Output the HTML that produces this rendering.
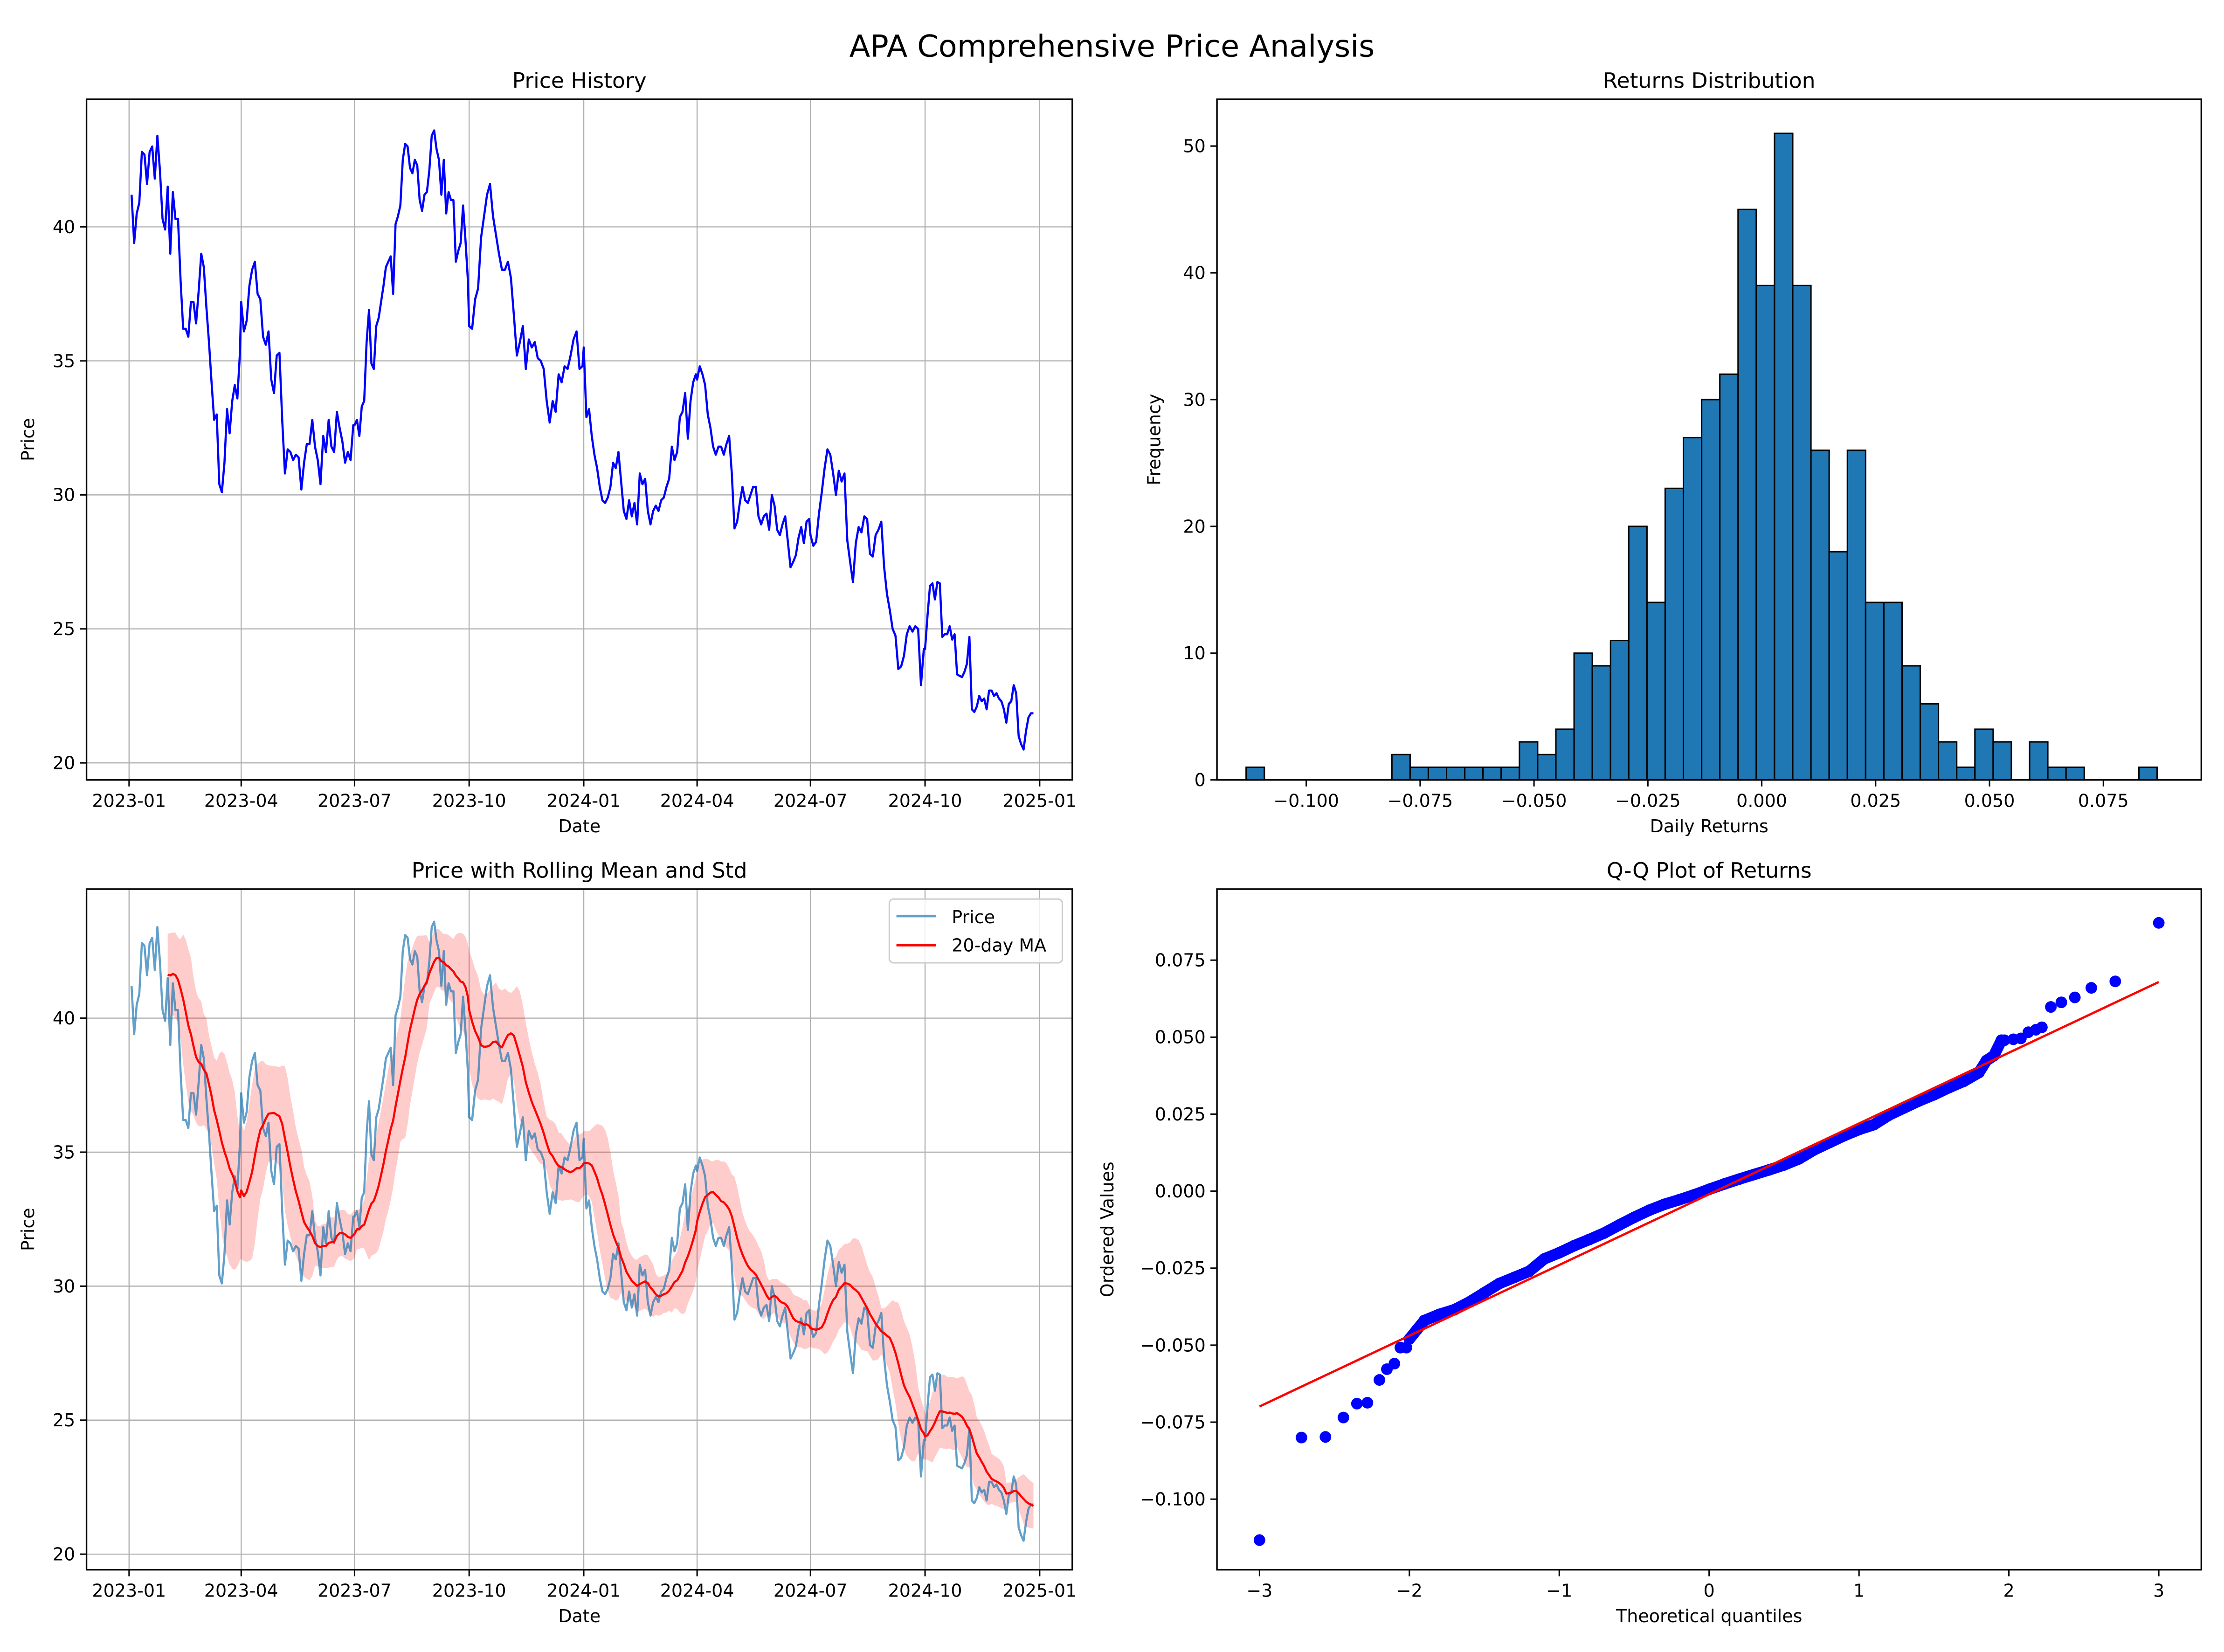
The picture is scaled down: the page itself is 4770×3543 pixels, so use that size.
<!DOCTYPE html>
<html><head><meta charset="utf-8">
<style>
html,body{margin:0;padding:0;background:#fff;}
svg{display:block;font-family:"DejaVu Sans","Liberation Sans",sans-serif;}
</style></head>
<body>
<svg id="fig" width="4770" height="3543" viewBox="0 0 1568 1165" preserveAspectRatio="none" xmlns="http://www.w3.org/2000/svg">
<rect x="0" y="0" width="1568" height="1165" fill="#fff"/>
<text x="784" y="40" font-size="21.5" text-anchor="middle">APA Comprehensive Price Analysis</text>
</svg>
<script>
// ---------- DATA ----------
const quarterStarts = ["2023-01-03","2023-04-01","2023-07-01","2023-10-01","2024-01-01","2024-04-01","2024-07-01","2024-10-01","2024-12-28"];
const priceQ1_2023 = [41.2,39.4,40.5,40.9,42.8,42.7,41.6,42.8,43,41.8,43.4,42.1,40.3,39.9,41.5,39,41.3,40.3,40.3,38,36.2,36.2,35.9,37.2,37.2,36.4,37.6,39,38.5,37,35.7,34.2,32.8,33,30.4,30.1,31.2,33.2,32.3,33.5,34.1,33.6,35.3];
const priceQ2_2023 = [37.2,36.1,36.5,37.8,38.4,38.7,37.5,37.3,35.9,35.6,36.1,34.3,33.8,35.2,35.3,32.8,30.8,31.7,31.6,31.3,31.5,31.4,30.2,31.2,31.9,31.9,32.8,31.8,31.3,30.4,32.2,31.6,32.8,31.8,31.6,33.1,32.5,32,31.2,31.6,31.3,32.6];
const priceQ3_2023 = [32.6,32.8,32.2,33.3,33.5,35.7,36.9,34.9,34.7,36.3,36.6,37.2,37.8,38.5,38.7,38.9,37.5,40.1,40.4,40.8,42.5,43.1,43,42.2,42,42.5,42.3,41,40.6,41.2,41.3,42.1,43.4,43.6,42.9,42.5,41.2,42.5,40.5,41.3,41,41,38.7,39.1,39.4,40.8,39.5,38];
const priceQ4_2023 = [36.3,36.2,37.3,37.7,39.6,40.4,41.2,41.6,40.4,39.7,39,38.4,38.4,38.7,38.1,36.7,35.2,35.7,36.3,34.7,35.8,35.5,35.7,35.1,35,34.7,33.5,32.7,33.5,33.1,34.5,34.2,34.8,34.7,35.2,35.8,36.1,34.7,34.8];
const priceQ1_2024 = [35.5,32.9,33.2,32.2,31.5,31,30.3,29.8,29.7,29.9,30.3,31.2,31,31.6,30.5,29.4,29.1,29.8,29.2,29.7,28.9,30.8,30.4,30.6,29.4,28.9,29.4,29.6,29.4,29.8,29.9,30.3,30.6,31.8,31.3,31.6,32.9,33.1,33.8,32.1,33.5,34.2,34.5];
const priceQ2_2024 = [34.3,34.8,34.5,34.1,33,32.5,31.8,31.5,31.8,31.8,31.5,31.9,32.2,30.8,28.75,29,29.7,30.3,29.8,29.7,30,30.3,30.3,29.2,28.9,29.2,29.3,28.7,30,29.6,28.7,28.5,28.9,29.2,28.25,27.3,27.5,27.75,28.4,28.8,28.2,29,29.1];
const priceQ3_2024 = [28.5,28.1,28.25,29.3,30.1,31,31.7,31.5,30.8,30,30.9,30.5,30.8,28.3,27.5,26.75,28.2,28.8,28.6,29.2,29.1,27.8,27.7,28.5,28.7,29,27.3,26.3,25.7,25,24.75,23.5,23.6,24,24.8,25.1,24.9,25.1,25,22.9,24.25];
const priceQ4_2024 = [24.25,25.5,26.6,26.7,26.1,26.75,26.7,24.7,24.8,24.8,25.1,24.6,24.8,23.3,23.25,23.2,23.4,23.7,24.7,22,21.9,22.1,22.5,22.3,22.4,22,22.7,22.7,22.5,22.6,22.4,22.3,22,21.5,22.2,22.3,22.9,22.6,21,20.7,20.5,21.2,21.7,21.85,21.85];
const dateTickLabels = ["2023-01","2023-04","2023-07","2023-10","2024-01","2024-04","2024-07","2024-10","2025-01"];
const priceTicks = [20,25,30,35,40];
const maWindowDays = 28;
const bandStdMult = 1.2;

const histStart = -0.1132;
const histBinWidth = 0.004;
const histCounts = [1,0,0,0,0,0,0,0,2,1,1,1,1,1,1,3,2,4,10,9,11,20,14,23,27,30,32,45,39,51,39,26,18,26,14,14,9,6,3,1,4,3,0,3,1,1,0,0,0,1];
const histXTicks = [-0.100,-0.075,-0.050,-0.025,0.000,0.025,0.050,0.075];
const histYTicks = [0,10,20,30,40,50];

const qqTheo = [-3,-2.72,-2.56,-2.44,-2.35,-2.28,-2.2,-2.15,-2.1,-2.06,-2.02,-2,-1.95,-1.9,-1.8,-1.7,-1.6,-1.5,-1.4,-1.3,-1.2,-1.1,-1.0,-0.9,-0.8,-0.7,-0.6,-0.5,-0.4,-0.3,-0.2,-0.1,0,0.1,0.2,0.3,0.4,0.5,0.6,0.7,0.8,0.9,1.0,1.1,1.2,1.3,1.4,1.5,1.6,1.7,1.8,1.85,1.9,1.95,1.97,2.03,2.08,2.13,2.18,2.22,2.28,2.35,2.44,2.55,2.71,3.0];
const qqOrdered = [-0.1133,-0.080,-0.0798,-0.0735,-0.069,-0.0687,-0.0613,-0.0578,-0.056,-0.0508,-0.0508,-0.048,-0.045,-0.042,-0.040,-0.0385,-0.036,-0.033,-0.030,-0.028,-0.026,-0.022,-0.020,-0.0177,-0.0157,-0.0136,-0.011,-0.0085,-0.0062,-0.0043,-0.0028,-0.0012,0.0006,0.0023,0.0039,0.0054,0.0069,0.0085,0.0105,0.0134,0.0157,0.018,0.020,0.0216,0.0247,0.027,0.0293,0.0313,0.0336,0.0357,0.0385,0.0424,0.044,0.049,0.049,0.0493,0.0496,0.0516,0.0524,0.0532,0.0598,0.0613,0.0629,0.066,0.0681,0.0871];
const qqFit = [0.02297,-0.0010]; // slope, intercept
const qqXTicks = [-3,-2,-1,0,1,2,3];
const qqYTicks = [-0.100,-0.075,-0.050,-0.025,0.000,0.025,0.050,0.075];

// ---------- HELPERS ----------
const NS="http://www.w3.org/2000/svg";
const svg=document.getElementById('fig');
function mk(tag,parent,attrs){const e=document.createElementNS(NS,tag);for(const k in attrs)e.setAttribute(k,attrs[k]);(parent||svg).appendChild(e);return e;}
function fmt(v,d){const s=Math.abs(v).toFixed(d);return (v<0?"\u2212":"")+s;}
const DAY=86400000;
const d0=Date.parse("2023-01-01");
function dayOf(s){return (Date.parse(s)-d0)/DAY;}

const quarters=[priceQ1_2023,priceQ2_2023,priceQ3_2023,priceQ4_2023,priceQ1_2024,priceQ2_2024,priceQ3_2024,priceQ4_2024];
const days=[],prices=[];
quarters.forEach((q,qi)=>{const a=dayOf(quarterStarts[qi]),b=dayOf(quarterStarts[qi+1]);const n=q.length;q.forEach((p,i)=>{days.push(a+(b-a-1)*i/(n-1));prices.push(p);});});
const maD=[],maV=[],maS=[];
for(let i=0;i<days.length;i++){if(days[i]-days[0]<maWindowDays)continue;const w=[];for(let j=i;j>=0&&days[i]-days[j]<maWindowDays;j--)w.push(prices[j]);const m=w.reduce((a,b)=>a+b,0)/w.length;const s=Math.sqrt(w.reduce((a,b)=>a+(b-m)*(b-m),0)/(w.length-1));maD.push(days[i]);maV.push(m);maS.push(s);}

function dateAxis(top,bottom){const L=61,R=756;const xs=d=>91+d*(642/731);const ys=p=>538-(p-20)*(378/20)+(top-70);return {L,R,T:top,B:bottom,xs,ys};}

function frame(ax,name,grid,xticks,yticks){
  const g=mk('g',svg,{});
  if(grid){xticks.forEach(t=>{const e=mk('line',g,{x1:t.x,x2:t.x,y1:ax.T,y2:ax.B,stroke:'#b0b0b0','stroke-width':0.8});});
  yticks.forEach(t=>{const e=mk('line',g,{x1:ax.L,x2:ax.R,y1:t.y,y2:t.y,stroke:'#b0b0b0','stroke-width':0.8});});}
  return g;
}
function axesDecor(ax,xticks,yticks,title,xlabel,ylabel,ylabelX,prefix){
  const r=mk('rect',svg,{x:ax.L,y:ax.T,width:ax.R-ax.L,height:ax.B-ax.T,fill:'none',stroke:'#000','stroke-width':1.1});
  
  xticks.forEach(t=>{const l=mk('line',svg,{x1:t.x,x2:t.x,y1:ax.B,y2:ax.B+4.6,stroke:'#000','stroke-width':1});
    const e=mk('text',svg,{x:t.x,y:ax.B+19,'font-size':12.5,'text-anchor':'middle'});e.textContent=t.label;});
  yticks.forEach(t=>{const l=mk('line',svg,{x1:ax.L-4.6,x2:ax.L,y1:t.y,y2:t.y,stroke:'#000','stroke-width':1});
    const e=mk('text',svg,{x:ax.L-8,y:t.y+4.4,'font-size':12.5,'text-anchor':'end'});e.textContent=t.label;});
  const ti=mk('text',svg,{x:(ax.L+ax.R)/2,y:ax.T-8,'font-size':15,'text-anchor':'middle'});ti.textContent=title;
  const xl=mk('text',svg,{x:(ax.L+ax.R)/2,y:ax.B+37,'font-size':12.5,'text-anchor':'middle'});xl.textContent=xlabel;
  const cy=(ax.T+ax.B)/2;const yl=mk('text',svg,{x:ylabelX,y:cy,'font-size':12.5,'text-anchor':'middle',transform:`rotate(-90 ${ylabelX} ${cy})`});yl.textContent=ylabel;
}

// ---------- PANEL 1 ----------
(function(){
  const ax=dateAxis(70,550);
  const xt=dateTickLabels.map(l=>({x:ax.xs(dayOf(l+"-01")),label:l}));
  const yt=priceTicks.map(v=>({y:ax.ys(v),label:String(v)}));
  frame(ax,'price-history-grid',true,xt,yt);
  const pts=days.map((d,i)=>ax.xs(d).toFixed(2)+','+ax.ys(prices[i]).toFixed(2)).join(' ');
  const pl=mk('polyline',svg,{points:pts,fill:'none',stroke:'#0000ff','stroke-width':1.5,'stroke-linejoin':'round'});
  
  axesDecor(ax,xt,yt,'Price History','Date','Price',24,'price-history');
})();

// ---------- PANEL 3 ----------
(function(){
  const ax=dateAxis(627,1107);
  ax.ys=p=>1096-(p-20)*(378/20);
  const xt=dateTickLabels.map(l=>({x:ax.xs(dayOf(l+"-01")),label:l}));
  const yt=priceTicks.map(v=>({y:ax.ys(v),label:String(v)}));
  frame(ax,'rolling-grid',true,xt,yt);
  let up=maD.map((d,i)=>ax.xs(d).toFixed(2)+','+ax.ys(maV[i]+bandStdMult*maS[i]).toFixed(2));
  let dn=maD.map((d,i)=>ax.xs(d).toFixed(2)+','+ax.ys(maV[i]-bandStdMult*maS[i]).toFixed(2)).reverse();
  const band=mk('polygon',svg,{points:up.concat(dn).join(' '),fill:'#ff0000','fill-opacity':0.2,stroke:'none'});
  
  const pts=days.map((d,i)=>ax.xs(d).toFixed(2)+','+ax.ys(prices[i]).toFixed(2)).join(' ');
  const pl=mk('polyline',svg,{points:pts,fill:'none',stroke:'#1f77b4','stroke-opacity':0.7,'stroke-width':1.5,'stroke-linejoin':'round'});
  
  const mpts=maD.map((d,i)=>ax.xs(d).toFixed(2)+','+ax.ys(maV[i]).toFixed(2)).join(' ');
  const ml=mk('polyline',svg,{points:mpts,fill:'none',stroke:'#ff0000','stroke-width':1.5,'stroke-linejoin':'round'});
  
  axesDecor(ax,xt,yt,'Price with Rolling Mean and Std','Date','Price',24,'rolling');
  const lg=mk('g',svg,{});
  mk('rect',lg,{x:627,y:634,width:122,height:45,rx:3,fill:'#fff','fill-opacity':0.8,stroke:'#cccccc','stroke-width':1});
  const e1=mk('line',lg,{x1:632,x2:660,y1:646,y2:646,stroke:'#1f77b4','stroke-opacity':0.7,'stroke-width':1.8});
  const t1=mk('text',lg,{x:671,y:651,'font-size':12.5});t1.textContent='Price';
  const e2=mk('line',lg,{x1:632,x2:660,y1:666.5,y2:666.5,stroke:'#ff0000','stroke-width':1.8});
  const t2=mk('text',lg,{x:671,y:671,'font-size':12.5});t2.textContent='20-day MA';
})();

// ---------- PANEL 2 ----------
(function(){
  const ax={L:858,R:1552,T:70,B:550};
  const xs=v=>1242.1+v*3211.4, ys=c=>550-c*8.94;
  histCounts.forEach((c,i)=>{if(c===0)return;const x0=xs(histStart+i*histBinWidth),x1=xs(histStart+(i+1)*histBinWidth);
    const b=mk('rect',svg,{x:x0,y:ys(c),width:x1-x0,height:550-ys(c),fill:'#1f77b4',stroke:'#000','stroke-width':1});
    });
  const xt=histXTicks.map(v=>({x:xs(v),label:fmt(v,3)}));
  const yt=histYTicks.map(v=>({y:ys(v),label:String(v)}));
  axesDecor(ax,xt,yt,'Returns Distribution','Daily Returns','Frequency',818,'histogram');
})();

// ---------- PANEL 4 ----------
(function(){
  const ax={L:858,R:1552,T:627,B:1107};
  const xs=v=>1205+v*105.67, ys=v=>840-v*2172;
  const bulk=[];
  qqTheo.forEach((t,i)=>{if(t>=-2&&t<=1.95)bulk.push(xs(t).toFixed(2)+','+ys(qqOrdered[i]).toFixed(2));});
  const band=mk('polyline',svg,{points:bulk.join(' '),fill:'none',stroke:'#0000ff','stroke-width':8,'stroke-linecap':'round','stroke-linejoin':'round'});
  
  qqTheo.forEach((t,i)=>{const c=mk('circle',svg,{cx:xs(t),cy:ys(qqOrdered[i]),r:4.1,fill:'#0000ff'});});
  const xa=qqTheo[0],xb=qqTheo[qqTheo.length-1];
  const fl=mk('line',svg,{x1:xs(xa),y1:ys(qqFit[0]*xa+qqFit[1]),x2:xs(xb),y2:ys(qqFit[0]*xb+qqFit[1]),stroke:'#ff0000','stroke-width':1.6});
  
  const xt=qqXTicks.map(v=>({x:xs(v),label:fmt(v,0)}));
  const yt=qqYTicks.map(v=>({y:ys(v),label:fmt(v,3)}));
  axesDecor(ax,xt,yt,'Q-Q Plot of Returns','Theoretical quantiles','Ordered Values',785,'qq');
})();
</script>
</body></html>
